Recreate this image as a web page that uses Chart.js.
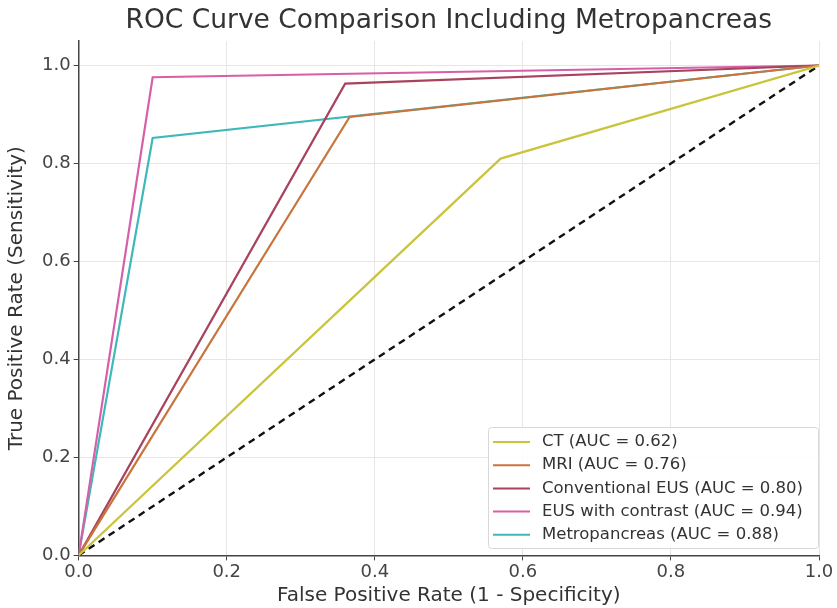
<!DOCTYPE html>
<html>
<head>
<meta charset="utf-8">
<script src="https://cdn.jsdelivr.net/npm/chart.js@4.4.1/dist/chart.umd.min.js"></script>
<style>
  html, body { margin: 0; padding: 0; background: #fff; }
  #wrap { width: 837px; height: 608px; }
</style>
</head>
<body>
<div id="wrap"><canvas id="roc"></canvas></div>
<script>
(() => {
  'use strict'

  // ROC points: [fpr, tpr]
  const models = ['CT', 'MRI', 'Conventional EUS', 'EUS with contrast', 'Metropancreas']
  const auc = [0.62, 0.76, 0.80, 0.94, 0.88]
  const fpr = [
    [0, 0.57, 1],
    [0, 0.366, 1],
    [0, 0.36, 1],
    [0, 0.10, 1],
    [0, 0.10, 1]
  ]
  const tpr = [
    [0, 0.81, 1],
    [0, 0.895, 1],
    [0, 0.963, 1],
    [0, 0.976, 1],
    [0, 0.852, 1]
  ]
  const chanceX = [0, 1]
  const chanceY = [0, 1]
  const tickValues = [0, 0.2, 0.4, 0.6, 0.8, 1.0]

  const colors = ['#c9c43c', '#c8743c', '#a8435e', '#d660a8', '#3fb8ba']
  const font = 'DejaVu Sans'

  const datasets = models.map((m, i) => ({
    label: m + ' (AUC = ' + auc[i].toFixed(2) + ')',
    data: fpr[i].map((x, j) => ({ x: x, y: tpr[i][j] })),
    borderColor: colors[i],
    backgroundColor: colors[i],
    borderWidth: 2.2,
    showLine: true,
    pointRadius: 0,
    tension: 0
  }))
  datasets.push({
    label: 'chance',
    data: chanceX.map((x, j) => ({ x: x, y: chanceY[j] })),
    borderColor: '#111',
    borderWidth: 2.4,
    borderDash: [7, 5],
    showLine: true,
    pointRadius: 0
  })

  const fixTicks = axis => { axis.ticks = tickValues.map(v => ({ value: v })) }

  // title centred over the plot, legend inside lower right
  const decor = {
    id: 'decor',
    afterDraw(chart) {
      const c = chart.ctx
      const a = chart.chartArea
      c.save()
      c.fillStyle = '#333'
      c.font = '26.5px "' + font + '"'
      c.textAlign = 'center'
      c.textBaseline = 'middle'
      c.fillText('ROC Curve Comparison Including Metropancreas', (a.left + a.right) / 2, 21)

      const bx = 488, by = 427, bw = 330, bh = 121
      c.fillStyle = 'rgba(255,255,255,0.85)'
      c.strokeStyle = '#d8d8d8'
      c.lineWidth = 1
      c.beginPath()
      c.roundRect(bx + 0.5, by + 0.5, bw, bh, 3)
      c.fill()
      c.stroke()
      c.font = '16.5px "' + font + '"'
      c.textAlign = 'left'
      models.forEach((m, i) => {
        const y = 442 + i * 23.2
        c.strokeStyle = colors[i]
        c.lineWidth = 2
        c.beginPath()
        c.moveTo(493, y)
        c.lineTo(530, y)
        c.stroke()
        c.fillStyle = '#333'
        c.fillText(chart.data.datasets[i].label, 542, y)
      })
      c.restore()
    }
  }

  new Chart(document.getElementById('roc'), {
    type: 'scatter',
    data: { datasets: datasets },
    options: {
      responsive: true,
      maintainAspectRatio: false,
      animation: false,
      layout: { padding: { top: 41, right: 18, left: 5, bottom: 0 } },
      plugins: {
        legend: { display: false },
        tooltip: { enabled: false }
      },
      scales: {
        x: {
          type: 'linear',
          min: 0,
          max: 1,
          afterBuildTicks: fixTicks,
          grid: { color: '#e6e6e6', tickColor: '#444', tickLength: 5 },
          border: { color: '#444', width: 1.5 },
          ticks: {
            color: '#444',
            font: { family: font, size: 18 },
            padding: 1,
            maxRotation: 0,
            callback: v => v.toFixed(1)
          },
          title: {
            display: true,
            text: 'False Positive Rate (1 - Specificity)',
            color: '#333',
            font: { family: font, size: 20 },
            padding: { top: 0, bottom: 0 }
          }
        },
        y: {
          type: 'linear',
          min: 0,
          max: 1.05,
          afterBuildTicks: fixTicks,
          grid: { color: '#e6e6e6', tickColor: '#444', tickLength: 5 },
          border: { color: '#444', width: 1.5 },
          ticks: {
            color: '#444',
            font: { family: font, size: 18 },
            padding: 3,
            callback: v => v.toFixed(1)
          },
          title: {
            display: true,
            text: 'True Positive Rate (Sensitivity)',
            color: '#333',
            font: { family: font, size: 20 },
            padding: { top: 0, bottom: 10 }
          }
        }
      }
    },
    plugins: [decor]
  })
})()
</script>
</body>
</html>
